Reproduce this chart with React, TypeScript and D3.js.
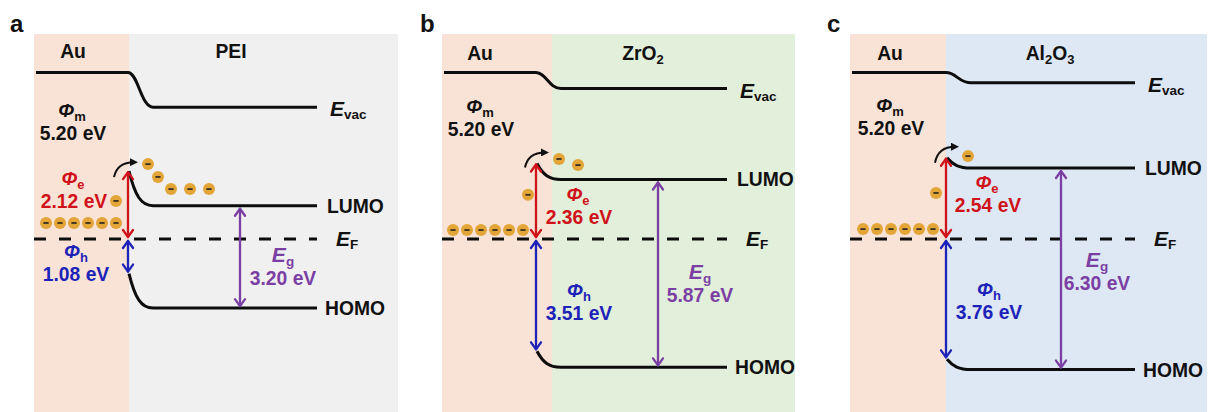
import React from "react";
import * as d3 from "d3";

// ---------- data ----------
const panelLetters = ["a", "b", "c"];
const metalNames = ["Au", "Au", "Au"];
// layer names as [text, isSubscript] pieces
const layerNames: [string, boolean][][] = [
  [["PEI", false]],
  [["ZrO", false], ["2", true]],
  [["Al", false], ["2", true], ["O", false], ["3", true]],
];
const workFunction = [5.2, 5.2, 5.2]; // Φm (eV)
const phiE = [2.12, 2.36, 2.54]; // electron barrier (eV)
const phiH = [1.08, 3.51, 3.76]; // hole barrier (eV)
const bandGap = [3.2, 5.87, 6.3]; // Eg (eV)
const bandBending = [1.08, 0.5, 0.32]; // illustrative interface bending (eV)
// electrons: energy above EF (eV) and x offset from interface
const rowElectronEnergy = [0.5, 0.28, 0.31];
const rowElectronCount = [6, 6, 6];
const singleElectronEnergy = [1.19, 1.38, 1.44];
const injectedElectronEnergy = [
  [2.34, 1.94, 1.56, 1.56, 1.56],
  [2.5, 2.31],
  [2.59],
];

// ---------- layout ----------
const EF_Y = 239;
const PX_PER_EV = 32;
const yScale = d3.scaleLinear().domain([0, 1]).range([EF_Y, EF_Y - PX_PER_EV]);

const L = [
  { left: 34, auRight: 129, right: 398, iface: 128, end: 317, egX: 240, letterX: 10, auX: 73,
    mX: 72, mY: 117, eX: 73, eY: 185, hX: 76, hY: 258, gX: 283, gY: 262, titleY: 58, layerX: 231,
    rowStart: -82, singleDx: -12, injDx: [20, 30, 43, 62, 81], curve: [-14, 6, 6, -9] },
  { left: 442, auRight: 552, right: 795, iface: 536, end: 727, egX: 658, letterX: 420, auX: 480,
    mX: 480, mY: 113, eX: 578, eY: 201, hX: 579, hY: 297, gX: 700, gY: 279, titleY: 60, layerX: 643,
    rowStart: -83, singleDx: -8, injDx: [23, 42], curve: [-11, 4, 9, -11] },
  { left: 850, auRight: 946, right: 1207, iface: 946, end: 1135, egX: 1061, letterX: 827, auX: 890,
    mX: 890, mY: 112, eX: 987, eY: 189, hX: 989, hY: 296, gX: 1097, gY: 267, titleY: 60, layerX: 1050,
    rowStart: -83, singleDx: -10, injDx: [22], curve: [-11, 5, 9, -11] },
];
const layerColors = ["#f0f0f0", "#e2efda", "#dde8f4"];
const AU_COLOR = "#f9e3d6";
const RED = "#d0121b";
const BLUE = "#1d22b8";
const PURPLE = "#7b3fa4";
const LINE = "#0d0d0d";
const E_COLOR = "#e3a537";
const FONT = "'Liberation Sans', Arial, Helvetica, sans-serif";
const FS = 19.3;

function DoubleArrow({ x, y1, y2, color }: { x: number; y1: number; y2: number; color: string }) {
  const hw = 5, hl = 7;
  return (
    <g stroke={color} strokeWidth={2.3} fill="none" strokeLinecap="round" strokeLinejoin="round">
      <line x1={x} y1={y1} x2={x} y2={y2} />
      <path d={`M${x - hw},${y1 + hl} L${x},${y1} L${x + hw},${y1 + hl}`} />
      <path d={`M${x - hw},${y2 - hl} L${x},${y2} L${x + hw},${y2 - hl}`} />
    </g>
  );
}

function Electron({ cx, cy }: { cx: number; cy: number }) {
  return (
    <g>
      <circle cx={cx} cy={cy} r={6} fill={E_COLOR} />
      <line x1={cx - 2.6} x2={cx + 2.6} y1={cy} y2={cy} stroke="#3a3020" strokeWidth={1.8} />
    </g>
  );
}

function Phi({ x, y, sub, color }: { x: number; y: number; sub: string; color: string }) {
  return (
    <text x={x} y={y} textAnchor="middle" fill={color} fontFamily={FONT} fontWeight="bold" fontSize={FS}>
      <tspan fontStyle="italic">Φ</tspan>
      <tspan fontSize={13} dy={4}>{sub}</tspan>
    </text>
  );
}

function ValueText({ x, y, v, color }: { x: number; y: number; v: number; color: string }) {
  return (
    <text x={x} y={y} textAnchor="middle" fill={color} fontFamily={FONT} fontWeight="bold" fontSize={FS}>
      {`${d3.format(".2f")(v)} eV`}
    </text>
  );
}

function Panel({ i }: { i: number }) {
  const g = L[i];
  const bend = bandBending[i];
  const yEvacAu = yScale(workFunction[i]);
  const yEvacBulk = yScale(workFunction[i] - bend);
  const yLumoI = yScale(phiE[i]);
  const yLumoB = yScale(phiE[i] - bend);
  const yHomoI = yScale(-phiH[i]);
  const yHomoB = yScale(-phiH[i] - bend);
  const yEF = yScale(0);
  const xi = g.iface;
  const xb = xi + 25;
  const bendPath = (y0: number, y1: number) =>
    `M${xi + 1},${y0} C${xi + 7},${y0 + (y1 - y0) * 0.7} ${xi + 13},${y1} ${xb},${y1} H${g.end}`;
  const evacPath = `M${g.left + 2},${yEvacAu} H${xi} C${xi + 10},${yEvacAu} ${xi + 13},${yEvacBulk} ${xb},${yEvacBulk} H${g.end}`;
  const [csx, csy, cex, cey] = g.curve;
  const sx = xi + csx, sy = yLumoI + csy, ex = xi + cex, ey = yLumoI + cey;

  const rowY = yScale(rowElectronEnergy[i]);
  const rows = d3.range(rowElectronCount[i]).map((k) => xi + g.rowStart + k * 14);

  return (
    <g>
      <rect x={g.left} y={34} width={g.auRight - g.left} height={412 - 34} fill={AU_COLOR} />
      <rect x={g.auRight} y={34} width={g.right - g.auRight} height={412 - 34} fill={layerColors[i]} />
      <text x={g.letterX} y={32} fontFamily={FONT} fontWeight="bold" fontSize={24} fill="#111">
        {panelLetters[i]}
      </text>
      <text x={g.auX} y={g.titleY} textAnchor="middle" fontFamily={FONT} fontWeight="bold" fontSize={FS} fill="#111">
        {metalNames[i]}
      </text>
      <text x={g.layerX} y={g.titleY} textAnchor="middle" fontFamily={FONT} fontWeight="bold" fontSize={FS} fill="#111">
        {layerNames[i].map(([t, sub], k) => (
          <tspan key={k} fontSize={sub ? 13 : FS} dy={sub ? 4 : k > 0 ? -4 : 0}>{t}</tspan>
        ))}
      </text>

      {/* levels */}
      <g fill="none" stroke={LINE} strokeWidth={3}>
        <path d={evacPath} />
        <path d={bendPath(yLumoI, yLumoB)} />
        <path d={bendPath(yHomoI, yHomoB)} />
        <line x1={g.left} x2={g.end} y1={yEF} y2={yEF} strokeDasharray="12 13" />
      </g>

      {/* level labels */}
      <text x={g.end + 13} y={yEvacBulk + 9} fontFamily={FONT} fontWeight="bold" fontSize={21} fill="#111">
        <tspan fontStyle="italic">E</tspan>
        <tspan fontSize={13.5} dy={3}>vac</tspan>
      </text>
      <text x={g.end + 10} y={yLumoB + 7} fontFamily={FONT} fontWeight="bold" fontSize={FS} fill="#111">LUMO</text>
      <text x={g.end + 19} y={yEF + 7} fontFamily={FONT} fontWeight="bold" fontSize={21} fill="#111">
        <tspan fontStyle="italic">E</tspan>
        <tspan fontSize={13.5} dy={3}>F</tspan>
      </text>
      <text x={g.end + 8} y={yHomoB + 7} fontFamily={FONT} fontWeight="bold" fontSize={FS} fill="#111">HOMO</text>

      {/* work function */}
      <Phi x={g.mX} y={g.mY} sub="m" color="#111" />
      <ValueText x={g.mX + 1} y={g.mY + 23} v={workFunction[i]} color="#111" />

      {/* barriers */}
      <DoubleArrow x={xi} y1={yLumoI + 1} y2={yEF - 2} color={RED} />
      <DoubleArrow x={xi} y1={yEF + 2} y2={yHomoI - 2} color={BLUE} />
      <DoubleArrow x={g.egX} y1={yLumoB + 3} y2={yHomoB - 2} color={PURPLE} />

      <Phi x={g.eX} y={g.eY} sub="e" color={RED} />
      <ValueText x={g.eX + 1} y={g.eY + 23} v={phiE[i]} color={RED} />
      <Phi x={g.hX} y={g.hY} sub="h" color={BLUE} />
      <ValueText x={g.hX} y={g.hY + 23} v={phiH[i]} color={BLUE} />
      <text x={g.gX} y={g.gY} textAnchor="middle" fill={PURPLE} fontFamily={FONT} fontWeight="bold" fontSize={21}>
        <tspan fontStyle="italic">E</tspan>
        <tspan fontSize={13.5} dy={4}>g</tspan>
      </text>
      <ValueText x={g.gX} y={g.gY + 23} v={bandGap[i]} color={PURPLE} />

      {/* electrons */}
      {rows.map((x, k) => <Electron key={"r" + k} cx={x} cy={rowY} />)}
      <Electron cx={xi + g.singleDx} cy={yScale(singleElectronEnergy[i])} />
      {injectedElectronEnergy[i].map((e, k) => (
        <Electron key={"j" + k} cx={xi + g.injDx[k]} cy={yScale(e)} />
      ))}

      {/* hopping arrow */}
      <path d={`M${sx},${sy} Q${sx + 3},${ey} ${ex},${ey}`} fill="none" stroke="#111" strokeWidth={2} markerEnd="url(#tri)" />
    </g>
  );
}

export default function App() {
  return (
    <svg width={1208} height={412} style={{ position: "absolute", left: 0, top: 0, background: "#fff" }}>
      <defs>
        <marker id="tri" viewBox="0 0 10 10" refX="5" refY="5" markerWidth="4" markerHeight="4" orient="auto">
          <path d="M0,0 L10,5 L0,10 Z" fill="#111" />
        </marker>
      </defs>
      <rect width={1208} height={412} fill="#fff" />
      {[0, 1, 2].map((i) => <Panel key={i} i={i} />)}
    </svg>
  );
}
